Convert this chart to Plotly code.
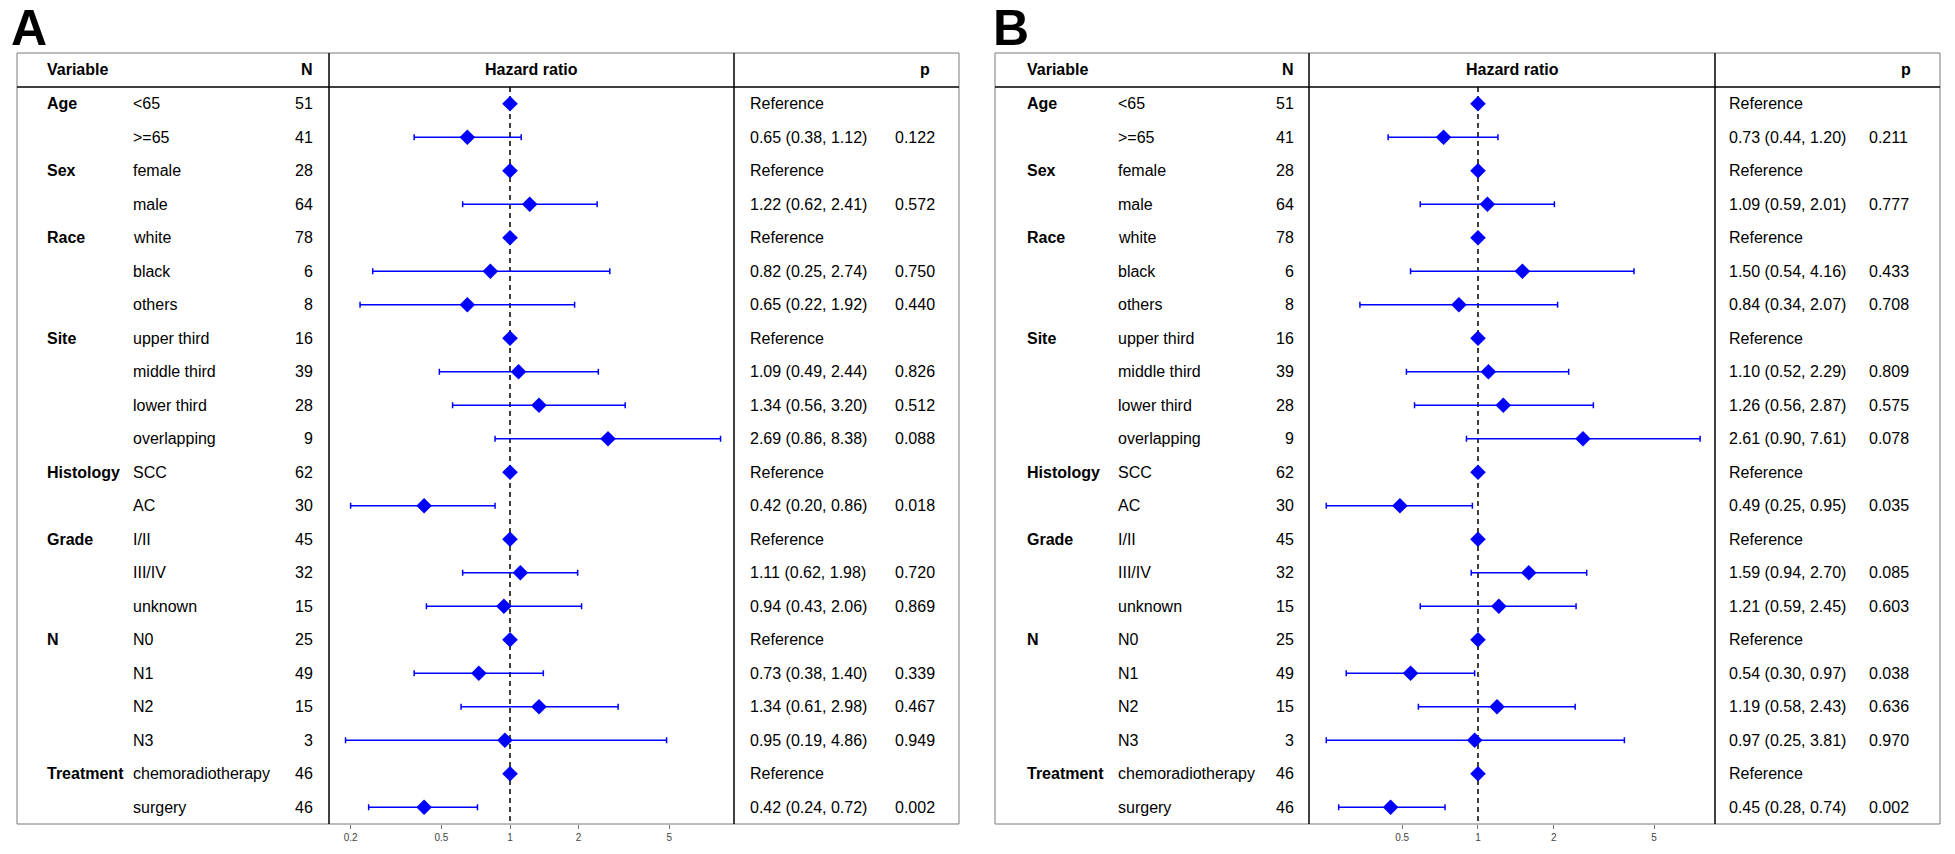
import math
import plotly.graph_objects as go

W, H = 1955, 854

# ---------------- data ----------------
group_col = ["Age", "", "Sex", "", "Race", "", "", "Site", "", "", "", "Histology", "",
             "Grade", "", "", "N", "", "", "", "Treatment", ""]
level_col = ["<65", ">=65", "female", "male", "white", "black", "others", "upper third",
             "middle third", "lower third", "overlapping", "SCC", "AC", "I/II", "III/IV",
             "unknown", "N0", "N1", "N2", "N3", "chemoradiotherapy", "surgery"]
n_col = [51, 41, 28, 64, 78, 6, 8, 16, 39, 28, 9, 62, 30, 45, 32, 15, 25, 49, 15, 3, 46, 46]

hr_a = [1, 0.65, 1, 1.22, 1, 0.82, 0.65, 1, 1.09, 1.34, 2.69, 1, 0.42, 1, 1.11, 0.94,
        1, 0.73, 1.34, 0.95, 1, 0.42]
lo_a = [None, 0.38, None, 0.62, None, 0.25, 0.22, None, 0.49, 0.56, 0.86, None, 0.20,
        None, 0.62, 0.43, None, 0.38, 0.61, 0.19, None, 0.24]
hi_a = [None, 1.12, None, 2.41, None, 2.74, 1.92, None, 2.44, 3.20, 8.38, None, 0.86,
        None, 1.98, 2.06, None, 1.40, 2.98, 4.86, None, 0.72]
p_a = ["", "0.122", "", "0.572", "", "0.750", "0.440", "", "0.826", "0.512", "0.088", "",
       "0.018", "", "0.720", "0.869", "", "0.339", "0.467", "0.949", "", "0.002"]

hr_b = [1, 0.73, 1, 1.09, 1, 1.50, 0.84, 1, 1.10, 1.26, 2.61, 1, 0.49, 1, 1.59, 1.21,
        1, 0.54, 1.19, 0.97, 1, 0.45]
lo_b = [None, 0.44, None, 0.59, None, 0.54, 0.34, None, 0.52, 0.56, 0.90, None, 0.25,
        None, 0.94, 0.59, None, 0.30, 0.58, 0.25, None, 0.28]
hi_b = [None, 1.20, None, 2.01, None, 4.16, 2.07, None, 2.29, 2.87, 7.61, None, 0.95,
        None, 2.70, 2.45, None, 0.97, 2.43, 3.81, None, 0.74]
p_b = ["", "0.211", "", "0.777", "", "0.433", "0.708", "", "0.809", "0.575", "0.078", "",
       "0.035", "", "0.085", "0.603", "", "0.038", "0.636", "0.970", "", "0.002"]

tick_vals = [0.2, 0.5, 1, 2, 5]
tick_text = ["0.2", "0.5", "1", "2", "5"]

# ---------------- layout geometry (pixels) ----------------
FONT = "Arial, Liberation Sans, sans-serif"
FS = 16
BOX_TOP, HEAD_LINE, BOX_BOT, HEAD_Y = 53, 87, 824, 70

panels = [
    dict(letter="A", letter_x=9, left=17, right=959, sep1=329, sep2=734, group_x=45,
         level_x=131, n_right=315, est_x=748, p_x=893, p_head=932,
         xr=(0.1608, 9.6), hr=hr_a, lo=lo_a, hi=hi_a, p=p_a, xa="x", ya="y"),
    dict(letter="B", letter_x=991, left=995, right=1940, sep1=1309, sep2=1715, group_x=1025,
         level_x=1116, n_right=1296, est_x=1727, p_x=1867, p_head=1913,
         xr=(0.2135, 8.72), hr=hr_b, lo=lo_b, hi=hi_b, p=p_b, xa="x2", ya="y2"),
]


def px(x):
    return x / W


def py(y):
    return 1 - y / H


fig = go.Figure()
shapes, annotations = [], []
nrows = len(level_col)
rows = list(range(nrows))

for k, P in enumerate(panels):
    sfx = "" if k == 0 else str(k + 1)
    fig.update_layout(**{
        f"xaxis{sfx}": dict(
            type="log", domain=[px(P["sep1"]), px(P["sep2"])],
            range=[math.log10(P["xr"][0]), math.log10(P["xr"][1])],
            tickvals=tick_vals, ticktext=tick_text, ticks="outside", ticklen=4,
            tickcolor="#777", tickwidth=1, tickfont=dict(size=10, color="#444", family=FONT),
            showgrid=False, zeroline=False, showline=False, anchor=P["ya"], fixedrange=True),
        f"yaxis{sfx}": dict(
            domain=[py(BOX_BOT), py(HEAD_LINE)], range=[nrows - 0.5, -0.5],
            visible=False, anchor=P["xa"], fixedrange=True),
    })

    # reference line
    fig.add_trace(go.Scatter(
        x=[1, 1], y=[-0.5, nrows - 0.5], mode="lines", xaxis=P["xa"], yaxis=P["ya"],
        line=dict(color="black", width=1.5, dash="5px,4px"), showlegend=False,
        hoverinfo="skip"))

    # hazard ratios with CI
    err_p = [(h - v) if h is not None else 0 for v, h in zip(P["hr"], P["hi"])]
    err_m = [(v - l) if l is not None else 0 for v, l in zip(P["hr"], P["lo"])]
    fig.add_trace(go.Scatter(
        x=P["hr"], y=rows, mode="markers", xaxis=P["xa"], yaxis=P["ya"],
        marker=dict(symbol="diamond", size=12, color="#0000FF"),
        error_x=dict(type="data", symmetric=False, array=err_p, arrayminus=err_m,
                     color="#0000FF", thickness=1.5, width=3),
        showlegend=False))

    # frame
    line_gray = dict(color="#7a7a7a", width=1)
    line_blk = dict(color="black", width=1.5)
    shapes += [
        dict(type="rect", xref="paper", yref="paper", x0=px(P["left"]), x1=px(P["right"]),
             y0=py(BOX_BOT), y1=py(BOX_TOP), line=line_gray),
        dict(type="line", xref="paper", yref="paper", x0=px(P["left"]), x1=px(P["right"]),
             y0=py(HEAD_LINE), y1=py(HEAD_LINE), line=line_blk),
        dict(type="line", xref="paper", yref="paper", x0=px(P["sep1"]), x1=px(P["sep1"]),
             y0=py(BOX_BOT), y1=py(BOX_TOP), line=line_blk),
        dict(type="line", xref="paper", yref="paper", x0=px(P["sep2"]), x1=px(P["sep2"]),
             y0=py(BOX_BOT), y1=py(BOX_TOP), line=line_blk),
    ]

    # panel letter
    annotations.append(dict(text=f"<b>{P['letter']}</b>", xref="paper", yref="paper",
                            x=px(P["letter_x"]), y=py(28), xanchor="left", yanchor="middle",
                            showarrow=False, font=dict(size=50, color="black", family=FONT)))
    # headers
    hf = dict(size=FS, color="black", family=FONT)

    def head(text, x, anchor):
        annotations.append(dict(text=f"<b>{text}</b>", xref="paper", yref="paper",
                                x=px(x), y=py(HEAD_Y), xanchor=anchor, yanchor="middle",
                                showarrow=False, font=hf))

    head("Variable", P["group_x"], "left")
    head("N", P["n_right"], "right")
    head("Hazard ratio", (P["sep1"] + P["sep2"]) / 2, "center")
    head("p", P["p_head"], "right")

    # rows
    rf = dict(size=FS, color="black", family=FONT)
    yref = P["ya"]
    for i in rows:
        def cell(text, x, anchor, bold=False):
            annotations.append(dict(text=f"<b>{text}</b>" if bold else text,
                                    xref="paper", yref=yref, x=px(x), y=i,
                                    xanchor=anchor, yanchor="middle", showarrow=False,
                                    font=rf))
        if group_col[i]:
            cell(group_col[i], P["group_x"], "left", bold=True)
        cell(level_col[i].replace("<", "&lt;"), P["level_x"], "left")
        cell(str(n_col[i]), P["n_right"], "right")
        if P["lo"][i] is None:
            cell("Reference", P["est_x"], "left")
        else:
            cell(f"{P['hr'][i]:.2f} ({P['lo'][i]:.2f}, {P['hi'][i]:.2f})", P["est_x"], "left")
            cell(P["p"][i], P["p_x"], "left")

fig.update_layout(
    width=W, height=H, autosize=False,
    margin=dict(l=0, r=0, t=0, b=0),
    paper_bgcolor="white", plot_bgcolor="rgba(0,0,0,0)",
    shapes=shapes, annotations=annotations,
    font=dict(family=FONT, color="black"),
    showlegend=False,
)

fig.write_html("out.html", config={"displayModeBar": False},
               post_script="document.body.style.margin='0';")
